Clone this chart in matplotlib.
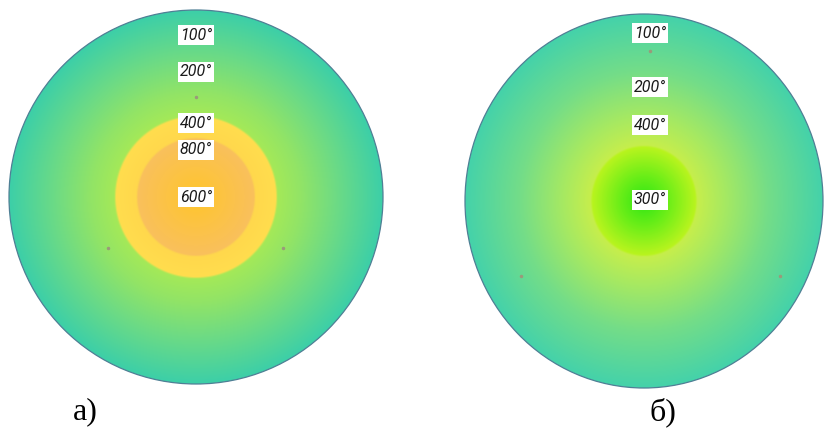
import numpy as np
import matplotlib
matplotlib.use("Agg")
import matplotlib.pyplot as plt
from matplotlib.patches import Ellipse
from matplotlib.colors import to_rgb

# temperature labels for each disc
temps_a = ["100°", "200°", "400°", "800°", "600°"]
temps_b = ["100°", "200°", "400°", "300°"]
panel_names = ["а)", "б)"]

# radial colour profiles: (radius in px from centre, colour)
profile_a = [(0, "#ffc52c"), (30, "#fcc345"), (58, "#f9c05c"), (60, "#ffd84c"),
             (80, "#ffdd4e"), (82, "#a4e958"), (105, "#92e466"), (140, "#6edb84"),
             (187, "#3ccfa8")]
profile_b = [(0, "#2ee614"), (25, "#6aee18"), (54, "#b8f41e"), (56, "#c6ee4c"),
             (85, "#a6e962"), (130, "#74dd88"), (187, "#44d2aa")]


def radial_image(ax, cx, cy, rx, ry, profile):
    xs = np.arange(cx - rx, cx + rx + 1)
    ys = np.arange(cy - ry, cy + ry + 1)
    X, Y = np.meshgrid(xs, ys)
    r = np.sqrt(((X - cx) / rx) ** 2 + ((Y - cy) / ry) ** 2) * 187
    stops = np.array([p[0] for p in profile], dtype=float)
    cols = np.array([to_rgb(p[1]) for p in profile])
    img = np.dstack([np.interp(r, stops, cols[:, k]) for k in range(3)])
    ell = Ellipse((cx, cy), 2 * rx, 2 * ry, facecolor="none",
                  edgecolor="#4f7f95", lw=0.9, zorder=3)
    ax.add_patch(ell)
    im = ax.imshow(img, extent=(cx - rx, cx + rx, cy + ry, cy - ry),
                   interpolation="bilinear", zorder=1)
    im.set_clip_path(ell)


def temp_label(ax, x, y, s):
    ax.text(x, y, s, ha="center", va="center", fontsize=11.5, style="italic",
            family="Roboto", color="#1a1a1a", zorder=5,
            bbox=dict(boxstyle="square,pad=0.15", fc="white", ec="none"))


fig = plt.figure(figsize=(8.27, 4.30), dpi=100)
ax = fig.add_axes([0, 0, 1, 1])
ax.set_xlim(0, 827)
ax.set_ylim(430, 0)
ax.axis("off")

# disc а)
radial_image(ax, 196, 197, 187, 187, profile_a)
for s, y in zip(temps_a, [35, 72, 123, 150, 197]):
    temp_label(ax, 196, y, s)
ax.plot([196, 108, 283], [97, 248, 248], "o", ms=1.5, color="#9a9a7a", zorder=4)

# disc б)
radial_image(ax, 644, 201, 179, 187, profile_b)
for s, y in zip(temps_b, [33, 87, 125, 200]):
    temp_label(ax, 650, y, s)
ax.plot([650, 521, 780], [51, 276, 276], "o", ms=1.5, color="#9a9a7a", zorder=4)

ax.text(85, 412, panel_names[0], ha="center", va="center", fontsize=23,
        family="Liberation Serif")
ax.text(663, 412, panel_names[1], ha="center", va="center", fontsize=23,
        family="Liberation Serif")

fig.savefig("out.png", dpi=100)
